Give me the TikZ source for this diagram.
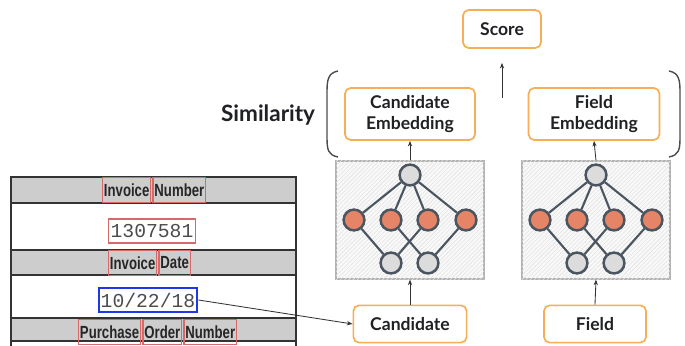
\documentclass[tikz,border=0pt]{standalone}
\usepackage{fontspec}
\setmainfont{Lato}
\newfontfamily\cellfont[FakeStretch=0.75]{Liberation Sans}
\setmonofont{Liberation Mono}
\usetikzlibrary{arrows.meta,patterns,positioning}
\definecolor{boxorange}{HTML}{F6AE57}
\definecolor{nodeorange}{HTML}{E58466}
\definecolor{nodegray}{HTML}{DCDCDC}
\definecolor{netline}{HTML}{4A5560}
\definecolor{wordred}{HTML}{D46A6A}
\definecolor{cellgray}{HTML}{CDCDCD}
\definecolor{datablue}{HTML}{2037E8}
\definecolor{inkdark}{HTML}{202124}
\begin{document}
\begin{tikzpicture}[x=0.025cm,y=-0.025cm,
    labelbox/.style={draw=boxorange,line width=1.2pt,rounded corners=4pt,fill=white,
      font=\bfseries\fontsize{12.5}{15}\selectfont,text=inkdark,align=center,inner sep=0pt},
    netbox/.style={draw=gray!60,line width=0.8pt,fill=gray!5,minimum width=3.7cm,minimum height=2.95cm,
      postaction={pattern=north east lines,pattern color=gray!22}},
    neuron/.style={circle,draw=netline,line width=1.8pt,minimum size=0.52cm,inner sep=0pt},
    hidden/.style={neuron,fill=nodeorange},
    io/.style={neuron,fill=nodegray},
    netedge/.style={draw=netline,line width=1.5pt},
    arr/.style={-{Stealth[length=4pt,width=3pt]},draw=gray!40!black,line width=0.6pt},
    word/.style={draw=wordred,line width=0.8pt,inner xsep=1pt,inner ysep=0pt,minimum height=0.62cm,
      font=\cellfont\bfseries\fontsize{12.5}{13}\selectfont,text=black!85},
    value/.style={line width=0.9pt,inner xsep=1.5pt,inner ysep=0pt,minimum height=0.6cm,
      font=\ttfamily\fontsize{14}{15}\selectfont,text=black!70},
    rule/.style={draw=black!80,line width=1.4pt}
  ]
\path[use as bounding box,fill=white] (0,0) rectangle (685,346);

% document table
\fill[cellgray] (11,177) rectangle (296,203);
\fill[cellgray] (11,250) rectangle (296,275);
\fill[cellgray] (11,318) rectangle (296,341);
\foreach \y in {177,203,250,275,318,341}
  \draw[rule] (11,\y) -- (296,\y);
\draw[rule] (11,176) -- (11,352);
\draw[rule] (296,176) -- (296,352);

\node[word,anchor=west] (inv1) at (102,190) {Invoice};
\node[word,right=0.8pt of inv1] (num1) {Number};
\node[value,draw=wordred] (invnum) at (152,231) {1307581};
\node[word,anchor=west] (inv2) at (108,263) {Invoice};
\node[word,right=0.8pt of inv2] (date) {Date};
\node[value,draw=datablue,line width=1.5pt] (dateval) at (148,300) {10/22/18};
\node[word,anchor=west] (po1) at (78,332) {Purchase};
\node[word,right=0.8pt of po1] (po2) {Order};
\node[word,right=0.8pt of po2] (po3) {Number};

% inputs and outputs
\node[labelbox,minimum width=2.83cm,minimum height=0.93cm] (cand) at (410,324) {Candidate};
\node[labelbox,minimum width=2.55cm,minimum height=0.93cm] (field) at (595,324) {Field};
\node[labelbox,minimum width=3.25cm,minimum height=1.3cm] (candemb) at (410,114) {Candidate\\Embedding};
\node[labelbox,minimum width=3.27cm,minimum height=1.3cm] (fieldemb) at (594,114) {Field\\Embedding};
\node[labelbox,minimum width=1.95cm,minimum height=0.95cm] (score) at (502,29) {Score};
\node[anchor=east,font=\bfseries\fontsize{16}{18}\selectfont,text=inkdark] (sim) at (320,115) {Similarity};

% encoders
\foreach \n/\c in {L/410,R/596}{
  \node[netbox] (\n-box) at (\c,220) {};
  \node[io] (\n-t) at (\c,175) {};
  \node[hidden] (\n-m1) at (\c-56,220) {};
  \node[hidden] (\n-m2) at (\c-19,220) {};
  \node[hidden] (\n-m3) at (\c+18,220) {};
  \node[hidden] (\n-m4) at (\c+56,220) {};
  \node[io] (\n-b1) at (\c-19,263) {};
  \node[io] (\n-b2) at (\c+18,263) {};
  \foreach \m in {1,...,4}
    \draw[netedge] (\n-t) -- (\n-m\m);
  \draw[netedge] (\n-m1) -- (\n-b1) (\n-m2) -- (\n-b2) (\n-m3) -- (\n-b1) (\n-m4) -- (\n-b2);
}

% brackets round the similarity part
\draw[gray!60!black,line width=1pt] (338,71) .. controls (328,73) and (327,80) .. (327,92) -- (327,137)
  .. controls (327,150) and (328,155) .. (338,157);
\draw[gray!60!black,line width=1pt] (669,71) .. controls (679,73) and (680,80) .. (680,92) -- (680,137)
  .. controls (680,150) and (679,155) .. (669,157);

\coordinate (simtop) at (502,98);
\draw[arr] (dateval.east) -- (cand.west);
\draw[arr] (cand.north) -- (L-box.south);
\draw[arr] (field.north) -- (R-box.south);
\draw[arr] (L-box.north) -- (candemb.south);
\draw[arr] (R-box.north) -- (fieldemb.south);
\draw[arr,shorten >=10pt] (simtop) -- (score.south);
\end{tikzpicture}
\end{document}
